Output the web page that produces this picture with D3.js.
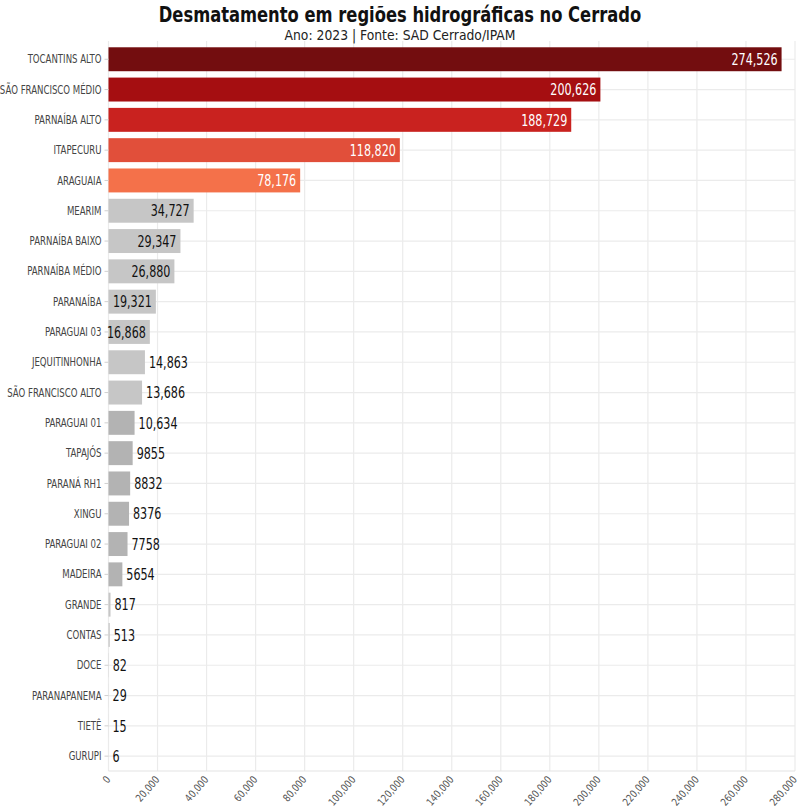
<!DOCTYPE html>
<html><head><meta charset="utf-8">
<script src="https://cdn.jsdelivr.net/npm/d3@7"></script>
<style>
body{margin:0;background:#fff;}
text{font-family:"DejaVu Sans Condensed","DejaVu Sans",sans-serif;}
</style></head><body>
<svg id="c" width="800" height="809"></svg>
<script>
const categories = ["TOCANTINS ALTO","SÃO FRANCISCO MÉDIO","PARNAÍBA ALTO","ITAPECURU","ARAGUAIA","MEARIM","PARNAÍBA BAIXO","PARNAÍBA MÉDIO","PARANAÍBA","PARAGUAI 03","JEQUITINHONHA","SÃO FRANCISCO ALTO","PARAGUAI 01","TAPAJÓS","PARANÁ RH1","XINGU","PARAGUAI 02","MADEIRA","GRANDE","CONTAS","DOCE","PARANAPANEMA","TIETÊ","GURUPI"];
const values = [274526,200626,188729,118820,78176,34727,29347,26880,19321,16868,14863,13686,10634,9855,8832,8376,7758,5654,817,513,82,29,15,6];
const valueLabels = ["274,526","200,626","188,729","118,820","78,176","34,727","29,347","26,880","19,321","16,868","14,863","13,686","10,634","9855","8832","8376","7758","5654","817","513","82","29","15","6"];
const barColors = ["#730d0f","#a50e11","#c9221f","#e14f3a","#f4714a","#c6c6c6","#c6c6c6","#c6c6c6","#c6c6c6","#c6c6c6","#c6c6c6","#c6c6c6","#b3b3b3","#b3b3b3","#b3b3b3","#b3b3b3","#b3b3b3","#b3b3b3","#c6c6c6","#c6c6c6","#c6c6c6","#c6c6c6","#c6c6c6","#c6c6c6"];
const labelInside = [true,true,true,true,true,true,true,true,true,true,false,false,false,false,false,false,false,false,false,false,false,false,false,false];
const xTicks = [0,20000,40000,60000,80000,100000,120000,140000,160000,180000,200000,220000,240000,260000,280000];
const title = "Desmatamento em regiões hidrográficas no Cerrado";
const subtitle = "Ano: 2023 | Fonte: SAD Cerrado/IPAM";

const svg = d3.select("#c");
const pLeft = 108.5, pRight = 795, pTop = 41, pBottom = 771;
const x = d3.scaleLinear().domain([0,280000]).range([pLeft,pRight]);
const y = d3.scaleBand().domain(categories).range([44.1,771.3]).paddingInner(0.21).paddingOuter(0.105);
const cy = d => y(d) + y.bandwidth()/2;

// gridlines
const g = svg.append("g");
g.selectAll("line.v").data(xTicks).enter().append("line")
  .attr("x1",d=>x(d)).attr("x2",d=>x(d)).attr("y1",pTop).attr("y2",pBottom)
  .attr("stroke","#ebebeb").attr("stroke-width",1.2);
g.selectAll("line.h").data(categories).enter().append("line")
  .attr("x1",pLeft).attr("x2",pRight)
  .attr("y1",cy).attr("y2",cy)
  .attr("stroke","#ebebeb").attr("stroke-width",1.2);
g.append("line").attr("x1",pLeft).attr("x2",pRight).attr("y1",pBottom).attr("y2",pBottom)
  .attr("stroke","#e3e3e3").attr("stroke-width",1.2);

// bars
svg.append("g").selectAll("rect").data(values).enter().append("rect")
  .attr("x",x(0)).attr("y",(d,i)=>y(categories[i]))
  .attr("width",d=>x(d)-x(0)).attr("height",y.bandwidth())
  .attr("fill",(d,i)=>barColors[i]);

// value labels
svg.append("g").selectAll("text").data(values).enter().append("text")
  .attr("transform",(d,i)=>`translate(${labelInside[i]? x(d)-4 : x(d)+4},${cy(categories[i])}) scale(0.8,1)`)
  .attr("dy","0.37em")
  .attr("text-anchor",(d,i)=>labelInside[i]?"end":"start")
  .attr("font-size",15.5)
  .attr("fill",(d,i)=>i<5?"#ffffff":"#111")
  .text((d,i)=>valueLabels[i]);

// y axis
const yAxis = svg.append("g").attr("transform",`translate(${pLeft},0)`)
  .call(d3.axisLeft(y).tickSize(4).tickPadding(0));
yAxis.select(".domain").remove();
yAxis.selectAll(".tick line").attr("stroke","#d0d0d0");
yAxis.selectAll(".tick text").attr("font-size",11.5).attr("fill","#444")
  .attr("x",0).attr("dy","0.36em")
  .attr("transform","translate(-7,0) scale(0.83,1)");

// x axis
const xAxis = svg.append("g").attr("transform",`translate(0,${pBottom})`)
  .call(d3.axisBottom(x).tickValues(xTicks).tickSize(0).tickFormat(d3.format(",")));
xAxis.select(".domain").remove();
xAxis.selectAll(".tick text").attr("font-size",10.5).attr("fill","#555")
  .attr("text-anchor","end").attr("dy",0).attr("y",0)
  .attr("transform","translate(2,9) rotate(-49) scale(0.9,1)");

// titles
svg.append("text").attr("transform","translate(400,22) scale(0.845,1)").attr("text-anchor","middle")
  .attr("font-size",21.5).attr("font-weight","bold").attr("fill","#111").text(title);
svg.append("text").attr("transform","translate(400,40) scale(0.95,1)").attr("text-anchor","middle")
  .attr("font-size",14.5).attr("fill","#222").text(subtitle);
</script></body></html>
